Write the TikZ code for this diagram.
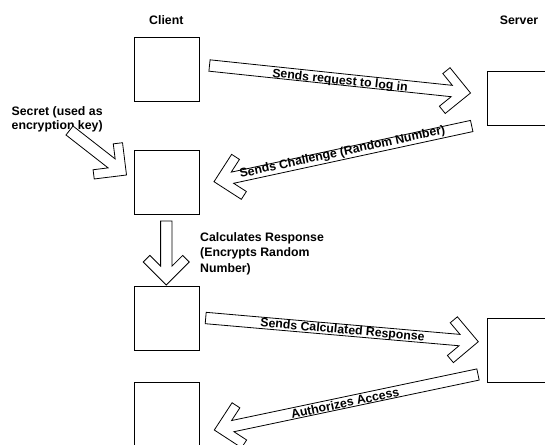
\documentclass[tikz,border=0pt]{standalone}
\usepackage{fontspec}
\setmainfont{Liberation Sans}
\usetikzlibrary{calc}
\tikzset{
  box/.style={draw, line width=0.8pt, minimum width=64.5pt, minimum height=64pt, inner sep=0pt, anchor=north west},
  lbl/.style={font=\bfseries\fontsize{12.3}{14}\selectfont, inner sep=0pt},
  arrowshape/.style={draw, fill=white, line width=0.8pt, line join=miter},
}
\newcommand{\thinarrow}[2]{%
  \filldraw[arrowshape] ($(#1)!5.7pt!90:(#2)$)
   -- ($(#2)!18.85pt!(#1)!5.7pt!-90:(#1)$)
   -- ($(#2)!29.58pt!(#1)!16.42pt!-90:(#1)$)
   -- ($(#2)!23pt!(#1)!23pt!-90:(#1)$)
   -- (#2)
   -- ($(#2)!23pt!(#1)!23pt!90:(#1)$)
   -- ($(#2)!29.58pt!(#1)!16.42pt!90:(#1)$)
   -- ($(#2)!18.85pt!(#1)!5.7pt!90:(#1)$)
   -- ($(#1)!5.7pt!-90:(#2)$) -- cycle;}
\begin{document}
\begin{tikzpicture}[x=1pt, y=-1pt]
\useasboundingbox (0,0) rectangle (545,444);
\clip (0,0) rectangle (545,444);
% boxes
\node[box] (c1) at (134,37) {};
\node[box] (c2) at (134,150) {};
\node[box] (c3) at (134,286) {};
\node[box, minimum height=70pt] (c4) at (134,382) {};
\node[box, minimum width=80pt, minimum height=54pt] (s1) at (487,71) {};
\node[box, minimum width=80pt] (s2) at (487,318) {};
% headers
\node[lbl] (client) at (166.3,20.5) {Client};
\node[lbl] (server) at (519,20.5) {Server};
\node[lbl, anchor=north west, align=left] (secret) at (11.5,106.5) {Secret (used as\\encryption key)};
\node[lbl, anchor=north west, align=left, font=\bfseries\fontsize{12.3}{15.2}\selectfont] (calc) at (200,232.5) {Calculates Response\\(Encrypts Random\\Number)};
% arrow end points
\coordinate (a1s) at (209.5,65.5);  \coordinate (a1t) at (470.5,93);
\coordinate (a2s) at (471.7,126);   \coordinate (a2t) at (214,181.7);
\coordinate (a3s) at (69.5,130.5);  \coordinate (a3t) at (126.5,175);
\coordinate (a4s) at (166.3,221);   \coordinate (a4t) at (166.3,285);
\coordinate (a5s) at (205.7,318);   \coordinate (a5t) at (478.3,341.7);
\coordinate (a6s) at (478,374.5);   \coordinate (a6t) at (214.3,430);
\thinarrow{a1s}{a1t}
\thinarrow{a2s}{a2t}
\thinarrow{a3s}{a3t}
\thinarrow{a4s}{a4t}
\thinarrow{a5s}{a5t}
\thinarrow{a6s}{a6t}
% arrow labels
\node[lbl, rotate=-6] (l1) at (340,81) {Sends request to log in};
\node[lbl, rotate=12.2] (l2) at (342.5,152.5) {Sends Challenge (Random Number)};
\node[lbl, rotate=-5] (l5) at (342.5,330.5) {Sends Calculated Response};
\node[lbl, rotate=11.9] (l6) at (345,403) {Authorizes Access};
\end{tikzpicture}
\end{document}
